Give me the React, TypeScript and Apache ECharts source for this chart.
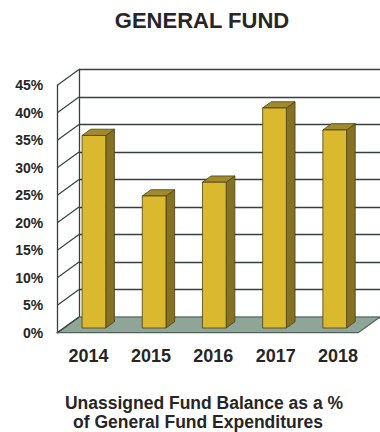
import React, { useEffect, useRef } from 'react';
import * as echarts from 'echarts';

const years = ['2014', '2015', '2016', '2017', '2018'];
const balancePct = [35, 24, 26.5, 40, 36];
const tickValues = [0, 5, 10, 15, 20, 25, 30, 35, 40, 45];
const titleText = 'GENERAL FUND';
const subtitleLines = ['Unassigned Fund Balance as a %', 'of General Fund Expenditures'];

const FONT = '"Liberation Sans", Arial, sans-serif';
const TEXT = '#262626';
const LINE = '#34423d';

export default function App() {
  const ref = useRef<HTMLDivElement>(null);

  useEffect(() => {
    const chart = echarts.init(ref.current!, null, { renderer: 'svg' });
    const DX = -21.7;
    const DY = 15.7;

    const option: any = {
      animation: false,
      backgroundColor: '#ffffff',
      grid: [
        { left: 79, top: 69.5, width: 312, height: 247.5 },
        { left: 57.3, top: 85.2, width: 312, height: 247.5 },
      ],
      xAxis: [
        {
          type: 'category', gridIndex: 0, data: years,
          axisLine: { show: false }, axisTick: { show: false }, axisLabel: { show: false },
          splitLine: { show: false },
        },
        {
          type: 'category', gridIndex: 1, data: years,
          axisLine: { show: false }, axisTick: { show: false },
          axisLabel: { fontSize: 18, fontWeight: 'bold', color: TEXT, fontFamily: FONT, margin: 14 },
          splitLine: { show: false },
        },
      ],
      yAxis: [
        {
          type: 'value', gridIndex: 0, min: 0, max: 45, interval: 5,
          axisLine: { show: true, lineStyle: { color: LINE, width: 1.3 } },
          axisTick: { show: false }, axisLabel: { show: false },
          splitLine: { show: true, lineStyle: { color: LINE, width: 1.4 } },
        },
        {
          type: 'value', gridIndex: 1, min: 0, max: 45, interval: 5,
          axisLine: { show: true, lineStyle: { color: LINE, width: 1.3 } },
          axisTick: { show: false },
          axisLabel: { formatter: '{value}%', fontSize: 14, fontWeight: 'bold', color: TEXT, fontFamily: FONT, margin: 14 },
          splitLine: { show: false },
        },
      ],
      graphic: [
        {
          type: 'text', x: 202, y: 20,
          style: { text: titleText, fontSize: 22, fontWeight: 'bold', fill: TEXT, fontFamily: FONT, align: 'center', verticalAlign: 'middle' },
        },
        {
          type: 'text', x: 204, y: 403,
          style: { text: subtitleLines[0], fontSize: 17.5, fontWeight: 'bold', fill: TEXT, fontFamily: FONT, align: 'center', verticalAlign: 'middle' },
        },
        {
          type: 'text', x: 198, y: 422,
          style: { text: subtitleLines[1], fontSize: 17.5, fontWeight: 'bold', fill: TEXT, fontFamily: FONT, align: 'center', verticalAlign: 'middle' },
        },
      ],
      series: [
        {
          type: 'custom', name: 'floor', xAxisIndex: 0, yAxisIndex: 0, z: 1,
          data: [[0, 0]],
          renderItem: (params: any, api: any) => {
            const bandW = api.size([1, 0])[0];
            const p0 = api.coord([0, 0]);
            const pN = api.coord([years.length - 1, 0]);
            const xl = p0[0] - bandW / 2;
            const xr = pN[0] + bandW / 2;
            const y0 = p0[1];
            return {
              type: 'polygon',
              shape: { points: [[xl, y0], [xr, y0], [xr + DX, y0 + DY], [xl + DX, y0 + DY]] },
              style: { fill: '#8fa597', stroke: '#4f615a', lineWidth: 1.2 },
            };
          },
        },
        {
          type: 'custom', name: 'sidewall', xAxisIndex: 0, yAxisIndex: 0, z: 2,
          data: tickValues.map((v) => [0, v]),
          renderItem: (params: any, api: any) => {
            const bandW = api.size([1, 0])[0];
            const p = api.coord([0, api.value(1)]);
            const x = p[0] - bandW / 2;
            return {
              type: 'line',
              shape: { x1: x, y1: p[1], x2: x + DX, y2: p[1] + DY },
              style: { stroke: LINE, lineWidth: 1.2 },
            };
          },
        },
        {
          type: 'custom', name: 'bars', xAxisIndex: 0, yAxisIndex: 0, z: 3,
          data: years.map((_, i) => [i, balancePct[i]]),
          renderItem: (params: any, api: any) => {
            const i = api.value(0);
            const v = api.value(1);
            const base = api.coord([i, 0]);
            const top = api.coord([i, v]);
            const bw = api.size([1, 0])[0] * 0.394;
            const fx = DX * 0.7, fy = DY * 0.7, bx = DX * 0.3, by = DY * 0.3;
            const x0 = base[0] - bw / 2;
            const x1 = base[0] + bw / 2;
            const f = (x: number, y: number) => [x + fx, y + fy];
            const b = (x: number, y: number) => [x + bx, y + by];
            const stroke = '#4b4012';
            return {
              type: 'group',
              children: [
                {
                  type: 'polygon',
                  shape: { points: [f(x1, top[1]), b(x1, top[1]), b(x1, base[1]), f(x1, base[1])] },
                  style: { fill: '#857123', stroke, lineWidth: 0.8 },
                },
                {
                  type: 'polygon',
                  shape: { points: [f(x0, top[1]), f(x1, top[1]), b(x1, top[1]), b(x0, top[1])] },
                  style: { fill: '#a08b2c', stroke, lineWidth: 0.8 },
                },
                {
                  type: 'rect',
                  shape: { x: x0 + fx, y: top[1] + fy, width: bw, height: base[1] - top[1] },
                  style: { fill: '#dab92e', stroke, lineWidth: 0.8 },
                },
              ],
            };
          },
        },
      ],
    };

    chart.setOption(option);
    return () => chart.dispose();
  }, []);

  return <div ref={ref} style={{ position: 'absolute', left: 0, top: 0, width: 380, height: 432 }} />;
}
